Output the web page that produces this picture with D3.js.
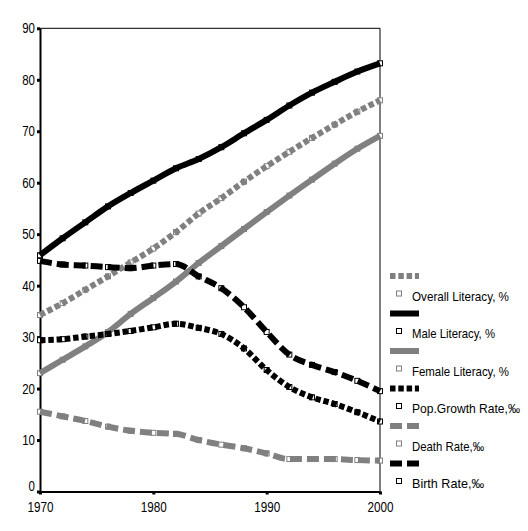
<!DOCTYPE html>
<html><head><meta charset="utf-8">
<script src="https://cdn.jsdelivr.net/npm/d3@7"></script>
<style>
body{margin:0;background:#fff;}
svg{display:block;}
text{font-family:"Liberation Sans Narrow","Liberation Sans",Arial,sans-serif;fill:#000;}
</style></head><body>
<svg id="c" width="528" height="531"></svg>
<script>
const years = [1970,1972,1974,1976,1978,1980,1982,1984,1986,1988,1990,1992,1994,1996,1998,2000];
const overallLiteracy = [34.3,36.6,39.2,41.8,44.5,47.2,50.4,54.0,57.0,60.2,63.2,66.0,68.7,71.3,73.8,76.0];
const maleLiteracy    = [45.9,49.2,52.3,55.4,58.0,60.4,62.8,64.6,66.9,69.6,72.2,75.0,77.5,79.6,81.6,83.2];
const femaleLiteracy  = [23.0,25.6,28.2,31.0,34.5,37.6,40.8,44.4,47.7,51.0,54.3,57.5,60.6,63.7,66.6,69.1];
const popGrowthRate   = [29.4,29.6,30.1,30.6,31.2,31.9,32.6,31.8,30.6,27.8,23.6,20.3,18.3,17.0,15.4,13.6];
const deathRate       = [15.5,14.6,13.7,12.6,11.8,11.4,11.2,10.0,9.1,8.4,7.4,6.3,6.3,6.3,6.1,6.0];
const birthRate       = [44.8,44.1,43.9,43.6,43.4,43.9,44.2,41.8,39.5,35.8,31.0,26.6,24.6,23.2,21.5,19.5];
const seriesNames = ["Overall Literacy, %","Male Literacy, %","Female Literacy, %","Pop.Growth Rate,‰","Death Rate,‰","Birth Rate,‰"];
const xTicks = [1970,1980,1990,2000];
const yTicks = [0,10,20,30,40,50,60,70,80,90];

const seriesValues = [overallLiteracy,maleLiteracy,femaleLiteracy,popGrowthRate,deathRate,birthRate];
const styles = [
  {color:"#808080", dash:"5.5,2.8"},
  {color:"#000000", dash:null},
  {color:"#808080", dash:null},
  {color:"#000000", dash:"5.5,2.8"},
  {color:"#808080", dash:"12,5"},
  {color:"#000000", dash:"12,5"}
];
const legendTextWidths = [97,83,97,108,72,72];

const svg = d3.select("#c");
const L=40, R=380, T=28.3, B=491.5;
const x = d3.scaleLinear().domain([1970,2000]).range([L,R]);
const y = d3.scaleLinear().domain([0,90]).range([B,T]);

function narrow(sel, f){
  sel.each(function(){
    const w = this.getComputedTextLength();
    d3.select(this).attr("textLength", w*f).attr("lengthAdjust","spacingAndGlyphs");
  });
}

// frame
svg.append("line").attr("x1",L).attr("x2",R).attr("y1",T).attr("y2",T).attr("stroke","#000").attr("stroke-width",1);
svg.append("line").attr("x1",R).attr("x2",R).attr("y1",T).attr("y2",B).attr("stroke","#000").attr("stroke-width",1);

// axes
const yAxis = svg.append("g").attr("transform",`translate(${L},0)`)
  .call(d3.axisLeft(y).tickValues(yTicks).tickSize(3).tickSizeOuter(0).tickPadding(2));
const xAxis = svg.append("g").attr("transform",`translate(0,${B})`)
  .call(d3.axisBottom(x).tickValues(xTicks).tickFormat(d3.format("d")).tickSize(3).tickSizeOuter(0).tickPadding(7));
[yAxis,xAxis].forEach(g=>{
  g.attr("font-family",null).attr("font-size",null);
  g.select(".domain").attr("stroke","#000").attr("stroke-width",2);
  g.selectAll(".tick line").attr("stroke","#000").attr("stroke-width",3);
});
yAxis.selectAll("text").style("font-size","14px");
yAxis.selectAll(".tick").filter(d=>d===0).select("text").attr("dy","-0.1em");
xAxis.selectAll("text").style("font-size","15px");
narrow(yAxis.selectAll("text"),0.82);
narrow(xAxis.selectAll("text"),0.78);

const line = d3.line().x((d,i)=>x(years[i])).y(d=>y(d)).curve(d3.curveMonotoneX);

seriesValues.forEach((vals,s)=>{
  const st = styles[s];
  const g = svg.append("g");
  g.selectAll("rect").data(vals).join("rect")
    .attr("x",(d,i)=>x(years[i])-2.5).attr("y",d=>y(d)-2.5)
    .attr("width",5).attr("height",5)
    .attr("fill","#fff").attr("stroke",st.color).attr("stroke-width",1);
  g.append("path").datum(vals).attr("d",line)
    .attr("fill","none").attr("stroke",st.color).attr("stroke-width",6)
    .attr("stroke-dasharray",st.dash);
});

// legend
const leg = svg.append("g");
seriesNames.forEach((name,i)=>{
  const st = styles[i];
  const sy = 276 + i*37.5;
  leg.append("line").attr("x1",390).attr("x2",419).attr("y1",sy).attr("y2",sy)
    .attr("stroke",st.color).attr("stroke-width",6).attr("stroke-dasharray",st.dash);
  leg.append("rect").attr("x",396.5).attr("y",sy+15).attr("width",5).attr("height",5)
    .attr("fill","#fff").attr("stroke",st.color).attr("stroke-width",1);
  leg.append("text").attr("x",412).attr("y",sy+24.5).style("font-size","13px")
    .attr("textLength",legendTextWidths[i]).attr("lengthAdjust","spacingAndGlyphs").text(name);
});
</script>
</body></html>
